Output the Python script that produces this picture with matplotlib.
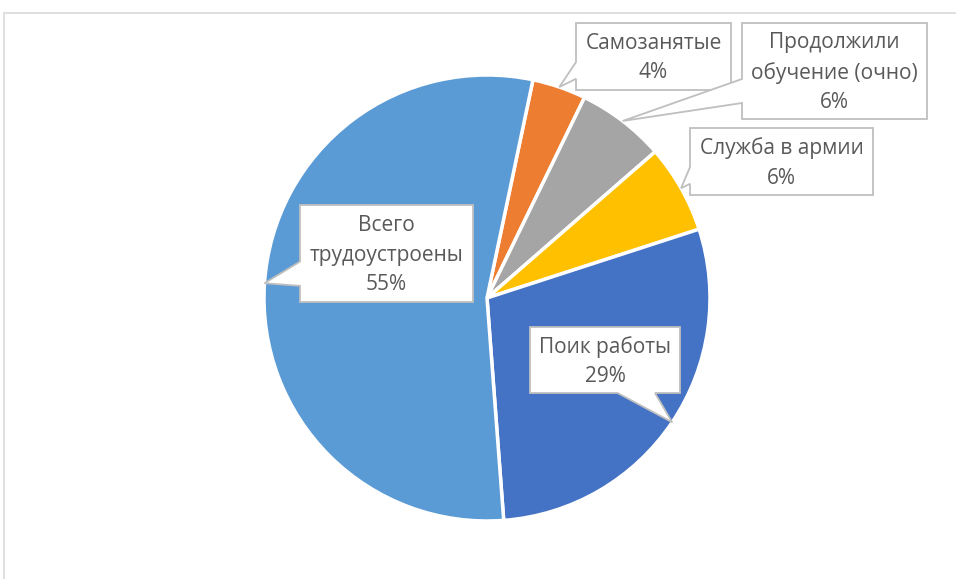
import math
import matplotlib
matplotlib.use("Agg")
import matplotlib.pyplot as plt
from matplotlib.patches import Polygon, Rectangle

# ---- data ----
categories = ["Самозанятые", "Продолжили\nобучение (очно)", "Служба в армии",
              "Поик работы", "Всего\nтрудоустроены"]
values = [3.9, 6.4, 6.4, 28.8, 54.5]          # percent of graduates
colors = ["#ED7D31", "#A5A5A5", "#FFC000", "#4472C4", "#5B9BD5"]

# ---- layout (pixel coordinates, top-down) ----
W, H = 956, 579
CX, CY, R = 487, 298, 223
START = 78.1
# callout boxes: (left, right, top, bottom)
boxes = [(576, 731, 23, 90),
         (742, 927, 23, 119),
         (690, 873, 128, 195),
         (530, 680, 327, 393),
         (300, 473, 205, 302)]

TEXT = "#595959"
EDGE = "#BFBFBF"
FONT = ["Open Sans", "DejaVu Sans"]

fig = plt.figure(figsize=(W / 100, H / 100), dpi=100)
ax = fig.add_axes([0, 0, 1, 1])

wedges, _ = ax.pie(values, colors=colors, startangle=START, counterclock=False,
                   radius=R, center=(CX, H - CY),
                   wedgeprops=dict(edgecolor="white", linewidth=2.5))
ax.set_xlim(0, W)
ax.set_ylim(0, H)
ax.set_aspect("equal")
ax.axis("off")

# chart area border (cut off at right/bottom)
ax.add_patch(Rectangle((4, -10), W + 20, H - 13 + 10, fill=False,
                       edgecolor="#D9D9D9", linewidth=1.2, zorder=0.5))


def callout(box, tip):
    x0, x1, yt, yb = box
    w, h = x1 - x0, yb - yt
    cx, cy = (x0 + x1) / 2, (yt + yb) / 2
    tx, ty = tip
    dx, dy = tx - cx, ty - cy
    pts = [(x0, yt)]
    if abs(dx) / w > abs(dy) / h:
        side = "right" if dx > 0 else "left"
    else:
        side = "bottom" if dy > 0 else "top"
    fx = (7 / 12, 10 / 12) if dx > 0 else (2 / 12, 5 / 12)
    fy = (7 / 12, 10 / 12) if dy > 0 else (2 / 12, 5 / 12)
    if side == "top":
        pts += [(x0 + fx[0] * w, yt), (tx, ty), (x0 + fx[1] * w, yt)]
    pts.append((x1, yt))
    if side == "right":
        pts += [(x1, yt + fy[0] * h), (tx, ty), (x1, yt + fy[1] * h)]
    pts.append((x1, yb))
    if side == "bottom":
        pts += [(x0 + fx[1] * w, yb), (tx, ty), (x0 + fx[0] * w, yb)]
    pts.append((x0, yb))
    if side == "left":
        pts += [(x0, yt + fy[1] * h), (tx, ty), (x0, yt + fy[0] * h)]
    return [(px, H - py) for px, py in pts]


for wdg, cat, val, box in zip(wedges, categories, values, boxes):
    mid = math.radians((wdg.theta1 + wdg.theta2) / 2)
    tip = (CX + R * math.cos(mid), CY - R * math.sin(mid))
    poly = Polygon(callout(box, tip), closed=True, facecolor="white",
                   edgecolor=EDGE, linewidth=1.3, zorder=3)
    ax.add_patch(poly)
    pct = math.floor(val + 0.5)
    label = f"{cat}\n{pct}%"
    ax.text((box[0] + box[1]) / 2, H - (box[2] + box[3]) / 2 - 1.5, label,
            ha="center", va="center", color=TEXT, fontsize=15,
            family=FONT, linespacing=1.55, zorder=4)

fig.savefig("out.png", dpi=100)
